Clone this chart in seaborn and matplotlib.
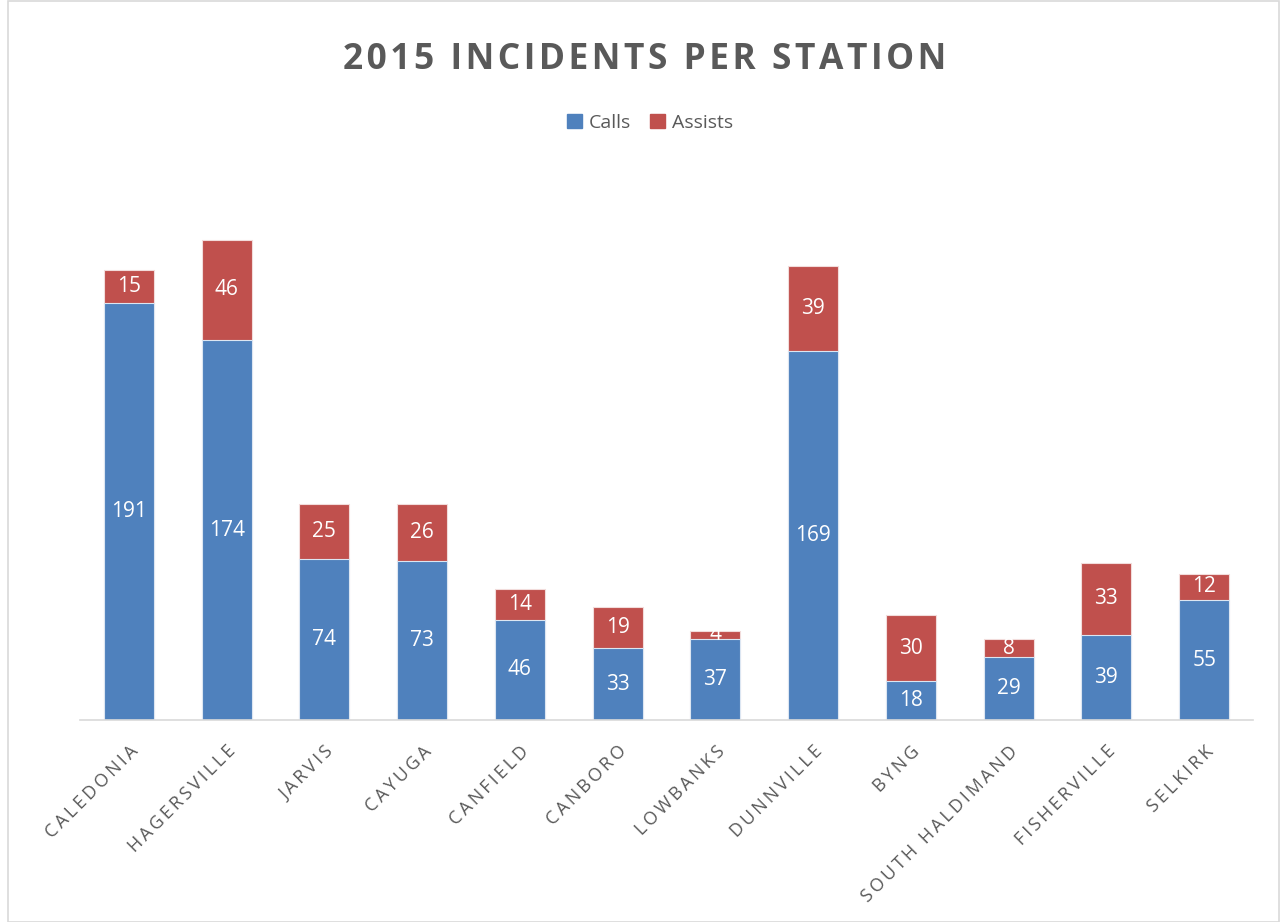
import matplotlib
matplotlib.use("Agg")
import matplotlib.pyplot as plt
import pandas as pd
import numpy as np
import seaborn as sns
from matplotlib.patches import Patch, Rectangle

# data
stations = ["CALEDONIA", "HAGERSVILLE", "JARVIS", "CAYUGA", "CANFIELD", "CANBORO",
            "LOWBANKS", "DUNNVILLE", "BYNG", "SOUTH HALDIMAND", "FISHERVILLE", "SELKIRK"]
calls = [191, 174, 74, 73, 46, 33, 37, 169, 18, 29, 39, 55]
assists = [15, 46, 25, 26, 14, 19, 4, 39, 30, 8, 33, 12]

blue = "#4F81BD"
red = "#C0504D"
grey = "#595959"

sns.set_style("white")
plt.rcParams['font.family'] = ['Open Sans', 'DejaVu Sans']

df = pd.DataFrame({"station": stations, "calls": calls, "assists": assists})
df["total"] = df["calls"] + df["assists"]

fig = plt.figure(figsize=(12.82, 9.22), dpi=100)
ax = fig.add_axes([0.0624, 0.219, 0.915, 0.592])

# stacked bars: totals (red) underneath, calls (blue) on top
sns.barplot(data=df, x="station", y="total", color=red, width=0.51, ax=ax,
            saturation=1, edgecolor="#f2dcdb", linewidth=0.8)
sns.barplot(data=df, x="station", y="calls", color=blue, width=0.51, ax=ax,
            saturation=1, edgecolor="#dce6f2", linewidth=0.8)

for i, row in df.iterrows():
    ax.text(i, row["calls"] / 2, str(row["calls"]), ha="center", va="center",
            color="white", fontsize=15)
    ax.text(i, row["calls"] + row["assists"] / 2, str(row["assists"]), ha="center",
            va="center", color="white", fontsize=15)

ax.set_ylim(0, 250)
ax.set_xlim(-0.5, 11.5)
ax.set_xlabel("")
ax.set_ylabel("")
ax.set_yticks([])
ax.set_xticks(range(len(stations)))
ax.set_xticklabels(["\u2009".join(s) for s in stations], rotation=45, ha="right",
                   rotation_mode="anchor", fontsize=13, color=grey)
ax.tick_params(axis="x", length=0, pad=16)
for side in ["top", "right", "left"]:
    ax.spines[side].set_visible(False)
ax.spines["bottom"].set_color("#d9d9d9")
ax.spines["bottom"].set_linewidth(1.2)

fig.text(0.503, 0.935, "\u200a".join("2015 INCIDENTS PER STATION"), ha="center",
         va="center", fontsize=25.5, fontweight="bold", color=grey)

handles = [Patch(color=blue, label="Calls"), Patch(color=red, label="Assists")]
fig.legend(handles=handles, loc="center", bbox_to_anchor=(0.507, 0.867), ncol=2,
           frameon=False, fontsize=14, handlelength=0.75, handleheight=0.75,
           handletextpad=0.35, columnspacing=1.0, labelcolor=grey)

# light frame around the chart area
fig.patches.append(Rectangle((0.006, 0.0), 0.992, 0.999, transform=fig.transFigure,
                             fill=False, edgecolor="#d9d9d9", linewidth=1.2))

fig.savefig("out.png", dpi=100)
